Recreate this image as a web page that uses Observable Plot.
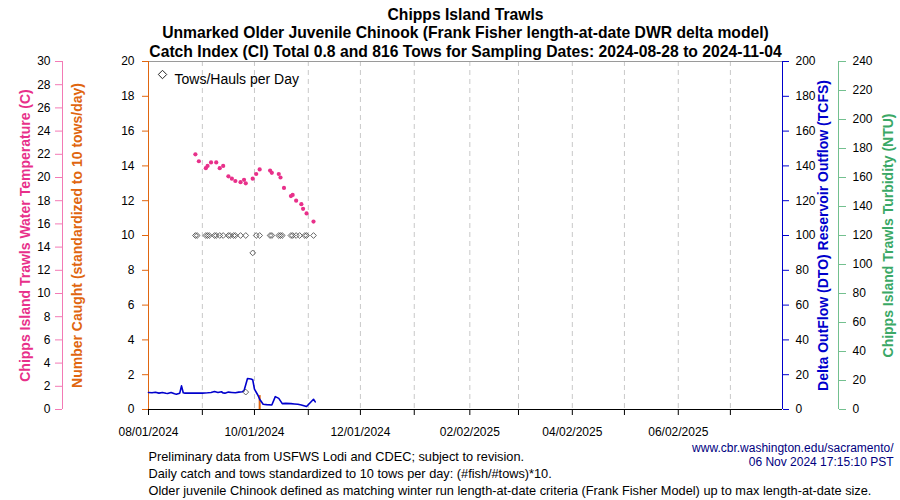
<!DOCTYPE html>
<html><head><meta charset="utf-8">
<script src="https://cdn.jsdelivr.net/npm/d3@7"></script>
<script src="https://cdn.jsdelivr.net/npm/@observablehq/plot@0.6"></script>
<style>body{margin:0;background:#fff}</style>
</head><body><div id="chart"></div>
<script>
// ---- data ----
const tempDates = ["2024-08-28","2024-08-30","2024-09-03","2024-09-04","2024-09-06","2024-09-09","2024-09-11","2024-09-13","2024-09-16","2024-09-18","2024-09-20","2024-09-23","2024-09-25","2024-09-26","2024-09-30","2024-10-02","2024-10-04","2024-10-10","2024-10-11","2024-10-15","2024-10-16","2024-10-18","2024-10-22","2024-10-23","2024-10-25","2024-10-28","2024-10-29","2024-10-31","2024-11-04"];
const tempValues = [22.0,21.4,20.8,21.0,21.3,21.3,20.8,21.0,20.1,19.9,19.7,19.6,19.8,19.5,19.9,20.3,20.7,20.6,20.4,20.3,20.0,19.1,18.4,18.5,18.0,17.7,17.3,16.9,16.2];

const towDates = ["2024-08-28","2024-08-29","2024-09-03","2024-09-04","2024-09-05","2024-09-08","2024-09-09","2024-09-11","2024-09-13","2024-09-16","2024-09-17","2024-09-19","2024-09-20","2024-09-23","2024-09-26","2024-09-26","2024-09-30","2024-10-02","2024-10-04","2024-10-10","2024-10-11","2024-10-15","2024-10-16","2024-10-17","2024-10-22","2024-10-23","2024-10-25","2024-10-27","2024-10-30","2024-10-31","2024-11-04"];
const towValues = [10,10,10,10,10,10,10,10,10,10,10,10,10,10,10,1,9,10,10,10,10,10,10,10,10,10,10,10,10,10,10];

const flowDates = ["2024-08-01","2024-08-03","2024-08-05","2024-08-07","2024-08-09","2024-08-11","2024-08-12","2024-08-14","2024-08-16","2024-08-17","2024-08-19","2024-08-20","2024-08-21","2024-08-22","2024-08-25","2024-08-28","2024-09-01","2024-09-04","2024-09-06","2024-09-08","2024-09-10","2024-09-12","2024-09-13","2024-09-14","2024-09-16","2024-09-18","2024-09-20","2024-09-22","2024-09-24","2024-09-25","2024-09-27","2024-09-29","2024-09-30","2024-10-01","2024-10-03","2024-10-04","2024-10-06","2024-10-08","2024-10-11","2024-10-13","2024-10-15","2024-10-17","2024-10-19","2024-10-22","2024-10-24","2024-10-26","2024-10-28","2024-10-31","2024-11-04","2024-11-05"];
const flowValues = [9.8,9.6,9.9,9.4,9.8,9.3,9.2,9.8,9.0,8.8,9.4,13.6,9.6,9.4,9.5,9.4,9.4,9.6,9.8,10.3,9.8,10.2,9.5,9.4,10.0,9.8,9.6,10.0,10.2,10.8,17.8,17.5,17.1,11.7,8.2,5.9,3.0,2.8,2.6,7.4,6.4,3.4,3.5,3.4,3.2,3.0,2.6,1.7,5.9,4.4];

const catchDates = ["2024-10-04"];
const catchValues = [0.8];

const xDomain = ["2024-08-01","2025-08-01"];
const xTickDates = ["2024-08-01","2024-09-01","2024-10-01","2024-11-01","2024-12-01","2025-01-01","2025-02-02","2025-03-02","2025-04-02","2025-05-02","2025-06-02","2025-07-02"];
const xTickLabels = ["08/01/2024","","10/01/2024","","12/01/2024","","02/02/2025","","04/02/2025","","06/02/2025",""];

const catchTicks = d3.range(0, 21, 2);
const tempTicks = d3.range(0, 31, 2);
const flowTicks = d3.range(0, 201, 20);
const turbTicks = d3.range(0, 241, 20);

const titleLines = ["Chipps Island Trawls",
  "Unmarked Older Juvenile Chinook (Frank Fisher length-at-date DWR delta model)",
  "Catch Index (CI) Total 0.8 and 816 Tows for Sampling Dates: 2024-08-28 to 2024-11-04"];
const footerLines = ["Preliminary data from USFWS Lodi and CDEC; subject to revision.",
  "Daily catch and tows standardized to 10 tows per day: (#fish/#tows)*10.",
  "Older juvenile Chinook defined as matching winter run length-at-date criteria (Frank Fisher Model) up to max length-at-date size."];
const sourceLines = ["www.cbr.washington.edu/sacramento/", "06 Nov 2024 17:15:10 PST"];

// ---- build ----
const D = s => new Date(s + "T00:00:00Z");
const temp = tempDates.map((d, i) => ({date: D(d), value: tempValues[i]}));
const tows = towDates.map((d, i) => ({date: D(d), value: towValues[i]}));
const flow = flowDates.map((d, i) => ({date: D(d), value: flowValues[i]}));
const caught = catchDates.map((d, i) => ({date: D(d), value: catchValues[i]}));
const xTicks = xTickDates.map(D);
const labelOf = new Map(xTickDates.map((d, i) => [+D(d), xTickLabels[i]]));
const x0 = D(xDomain[0]), x1 = D(xDomain[1]);

const PINK = "#e8308a", PINK_AX = "#f37ab5", ORANGE = "#e0660f", BLUE = "#0000cc", GREEN = "#3aa866", GREEN_AX = "#73c08f";
const tempK = 20 / 30, flowK = 20 / 200, turbK = 20 / 240;

const vLabel = (t, anchor, dx, fill) => Plot.text([t], {text: d => d, frameAnchor: anchor, dx, rotate: -90, textAnchor: "middle", lineAnchor: "middle", fontSize: 14, fontWeight: "bold", fill});

const chart = Plot.plot({
  width: 900, height: 500,
  marginTop: 61, marginBottom: 91, marginLeft: 148, marginRight: 118,
  style: {fontFamily: "'Liberation Sans', Arial, sans-serif", fontSize: "12px", background: "#fff"},
  x: {type: "utc", domain: [x0, x1]},
  y: {domain: [0, 20]},
  marks: [
    Plot.ruleX(xTicks, {stroke: "#c8c8c8", strokeDasharray: "5,4"}),
    Plot.ruleY([20], {stroke: "#9a9a9a"}),
    // axis lines
    Plot.ruleX([x0], {stroke: ORANGE}),
    Plot.ruleX([x0], {stroke: PINK_AX, dx: -86}),
    Plot.ruleX([x1], {stroke: BLUE}),
    Plot.ruleX([x1], {stroke: GREEN_AX, dx: 56}),
    Plot.ruleY([0], {stroke: "#000"}),
    // axes
    Plot.axisY(catchTicks, {anchor: "left", stroke: ORANGE, fill: "#000", tickSize: 6, tickPadding: 8, label: null}),
    Plot.axisY(tempTicks.map(v => v * tempK), {anchor: "left", dx: -86, stroke: PINK_AX, fill: "#000", tickSize: 7, tickPadding: 5, tickFormat: d => String(Math.round(d / tempK)), label: null}),
    Plot.axisY(flowTicks.map(v => v * flowK), {anchor: "right", stroke: BLUE, fill: "#000", tickSize: 6, tickPadding: 7, tickFormat: d => String(Math.round(d / flowK)), label: null}),
    Plot.axisY(turbTicks.map(v => v * turbK), {anchor: "right", dx: 56, stroke: GREEN_AX, fill: "#000", tickSize: 7, tickPadding: 7, tickFormat: d => String(Math.round(d / turbK)), label: null}),
    Plot.axisX(xTicks, {anchor: "bottom", stroke: "#000", fill: "#000", tickSize: 6, tickPadding: 12, tickFormat: d => labelOf.get(+d) ?? "", label: null}),
    // data
    Plot.ruleX(caught, {x: "date", y1: 0, y2: "value", stroke: ORANGE, strokeWidth: 2}),
    Plot.lineY(flow, {x: "date", y: d => d.value * flowK, stroke: BLUE, strokeWidth: 1.6}),
    Plot.dot(tows, {x: "date", y: "value", symbol: "diamond2", r: 2.6, stroke: "#555", strokeWidth: 0.9, fill: "none"}),
    Plot.dot(temp, {x: "date", y: d => d.value * tempK, r: 2.1, fill: PINK}),
    // legend
    Plot.dot([0], {frameAnchor: "top-left", dx: 14, dy: 13, symbol: "diamond2", r: 3.8, stroke: "#222", strokeWidth: 1, fill: "none"}),
    Plot.text(["Tows/Hauls per Day"], {text: d => d, frameAnchor: "top-left", dx: 26, dy: 13, textAnchor: "start", fontSize: 14, fill: "#000"}),
    // axis titles
    vLabel("Chipps Island Trawls Water Temperature (C)", "left", -123, PINK),
    vLabel("Number Caught (standardized to 10 tows/day)", "left", -71, ORANGE),
    vLabel("Delta OutFlow (DTO) Reservoir Outflow (TCFS)", "right", 41, BLUE),
    vLabel("Chipps Island Trawls Turbidity (NTU)", "right", 106, GREEN),
    // titles
    ...titleLines.map((t, i) => Plot.text([t], {text: d => d, frameAnchor: "top", dy: -53 + i * 18.5, fontSize: 15.7, fontWeight: "bold", fill: "#000"})),
    // footers
    ...footerLines.map((t, i) => Plot.text([t], {text: d => d, frameAnchor: "bottom-left", dy: 51.5 + i * 17, textAnchor: "start", fontSize: 12.75, fill: "#000"})),
    ...sourceLines.map((t, i) => Plot.text([t], {text: d => d, frameAnchor: "bottom-right", dx: 111, dy: 42 + i * 14, textAnchor: "end", fontSize: 12, fill: "#000080"}))
  ]
});
document.getElementById("chart").appendChild(chart);
</script>
</body></html>
